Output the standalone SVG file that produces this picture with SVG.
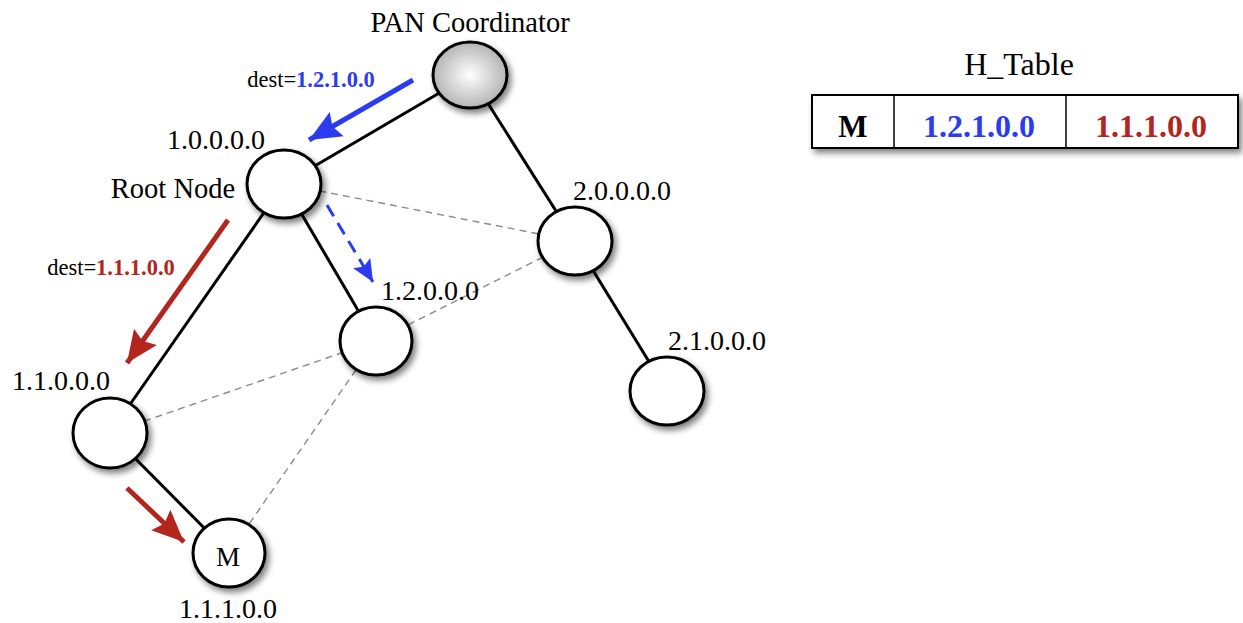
<svg xmlns="http://www.w3.org/2000/svg" width="1243" height="623" viewBox="0 0 1243 623">
<defs>
<style>
.t{font-family:"Liberation Serif","Times New Roman",serif;fill:#000}
.lbl{font-size:28px}
.dest{font-size:22.5px}
.b{font-weight:bold}
.blue{fill:#2b3cf0}
.red{fill:#b3261e}
.node{fill:#fff;stroke:#000;stroke-width:3}
.edge{stroke:#000;stroke-width:3;fill:none}
.dash{stroke:#8a8a8a;stroke-width:1.4;stroke-dasharray:7 5;fill:none}
</style>
<filter id="sh" x="-30%" y="-30%" width="170%" height="170%">
<feGaussianBlur in="SourceAlpha" stdDeviation="3"/>
<feOffset dx="3" dy="4" result="o"/>
<feComponentTransfer><feFuncA type="linear" slope="0.5"/></feComponentTransfer>
<feMerge><feMergeNode/><feMergeNode in="SourceGraphic"/></feMerge>
</filter>
<radialGradient id="pan" cx="0.5" cy="0.5" r="0.6">
<stop offset="0" stop-color="#ffffff"/>
<stop offset="1" stop-color="#a6a6a6"/>
</radialGradient>
<marker id="ab" markerUnits="userSpaceOnUse" markerWidth="34" markerHeight="30" refX="32" refY="15" orient="auto" viewBox="0 0 34 30">
<path d="M0,1 L32,15 L0,29 L5,15 z" fill="#2b3cf0"/>
</marker>
<marker id="abs" markerUnits="userSpaceOnUse" markerWidth="24" markerHeight="22" refX="22" refY="11" orient="auto" viewBox="0 0 24 22">
<path d="M0,1 L22,11 L0,21 L4,11 z" fill="#2b3cf0"/>
</marker>
<marker id="ar" markerUnits="userSpaceOnUse" markerWidth="34" markerHeight="30" refX="32" refY="15" orient="auto" viewBox="0 0 34 30">
<path d="M0,1 L32,15 L0,29 L5,15 z" fill="#b3261e"/>
</marker>
</defs>
<rect width="1243" height="623" fill="#fff"/>

<g id="connectors">
<line class="dash" x1="284" y1="184" x2="575" y2="241"/>
<line class="dash" x1="376" y1="341" x2="575" y2="241"/>
<line class="dash" x1="110" y1="433" x2="376" y2="341"/>
<line class="dash" x1="229" y1="553" x2="376" y2="341"/>
<line class="edge" x1="470" y1="75" x2="284" y2="184"/>
<line class="edge" x1="470" y1="75" x2="575" y2="241"/>
<line class="edge" x1="284" y1="184" x2="110" y2="433"/>
<line class="edge" x1="284" y1="184" x2="376" y2="341"/>
<line class="edge" x1="110" y1="433" x2="229" y2="553"/>
<line class="edge" x1="575" y1="241" x2="667" y2="391"/>
<line x1="413" y1="80" x2="309" y2="140" stroke="#2b3cf0" stroke-width="5" marker-end="url(#ab)"/>
<line x1="327" y1="205" x2="373" y2="282" stroke="#2b3cf0" stroke-width="3" stroke-dasharray="13 8" marker-end="url(#abs)"/>
<line x1="228" y1="220" x2="127" y2="363" stroke="#b3261e" stroke-width="5" marker-end="url(#ar)"/>
<line x1="127" y1="488" x2="184" y2="542" stroke="#b3261e" stroke-width="5" marker-end="url(#ar)"/>
</g>

<g id="pan-coordinator">
<ellipse cx="470" cy="75" rx="37" ry="33" fill="url(#pan)" stroke="#000" stroke-width="3" filter="url(#sh)"/>
<text class="t" x="470" y="32" text-anchor="middle" font-size="28.5">PAN Coordinator</text>
</g>
<g id="root-node">
<ellipse class="node" cx="284" cy="184" rx="37" ry="34" filter="url(#sh)"/>
<text class="t lbl" x="216" y="149" text-anchor="middle">1.0.0.0.0</text>
<text class="t" x="173" y="198" text-anchor="middle" font-size="28.5">Root Node</text>
</g>
<g id="node-1-2">
<ellipse class="node" cx="376" cy="341" rx="36" ry="34" filter="url(#sh)"/>
<text class="t lbl" x="430" y="300" text-anchor="middle">1.2.0.0.0</text>
</g>
<g id="node-1-1">
<ellipse class="node" cx="110" cy="433" rx="37" ry="35" filter="url(#sh)"/>
<text class="t lbl" x="61" y="390" text-anchor="middle">1.1.0.0.0</text>
</g>
<g id="node-m">
<ellipse class="node" cx="229" cy="553" rx="36" ry="34" filter="url(#sh)"/>
<text class="t" x="228" y="566" text-anchor="middle" font-size="27">M</text>
<text class="t lbl" x="228" y="618" text-anchor="middle">1.1.1.0.0</text>
</g>
<g id="node-2">
<ellipse class="node" cx="575" cy="241" rx="37" ry="34" filter="url(#sh)"/>
<text class="t lbl" x="622" y="200" text-anchor="middle">2.0.0.0.0</text>
</g>
<g id="node-2-1">
<ellipse class="node" cx="667" cy="391" rx="37" ry="34" filter="url(#sh)"/>
<text class="t lbl" x="717" y="350" text-anchor="middle">2.1.0.0.0</text>
</g>

<g id="label-dest-blue">
<text class="t dest" x="311" y="87" text-anchor="middle">dest=<tspan class="b blue">1.2.1.0.0</tspan></text>
</g>
<g id="label-dest-red">
<text class="t dest" x="111" y="275" text-anchor="middle">dest=<tspan class="b red">1.1.1.0.0</tspan></text>
</g>

<g id="h-table">
<text class="t" x="1019" y="75" text-anchor="middle" font-size="32">H_Table</text>
<rect x="812" y="95" width="426" height="53" fill="#fff" stroke="#000" stroke-width="2" filter="url(#sh)"/>
<line x1="894" y1="95" x2="894" y2="148" stroke="#000" stroke-width="1.5"/>
<line x1="1066" y1="95" x2="1066" y2="148" stroke="#000" stroke-width="1.5"/>
<text class="t b" x="853" y="137" text-anchor="middle" font-size="31">M</text>
<text class="t b blue" x="979" y="137" text-anchor="middle" font-size="32">1.2.1.0.0</text>
<text class="t b red" x="1151" y="137" text-anchor="middle" font-size="32">1.1.1.0.0</text>
</g>
</svg>
